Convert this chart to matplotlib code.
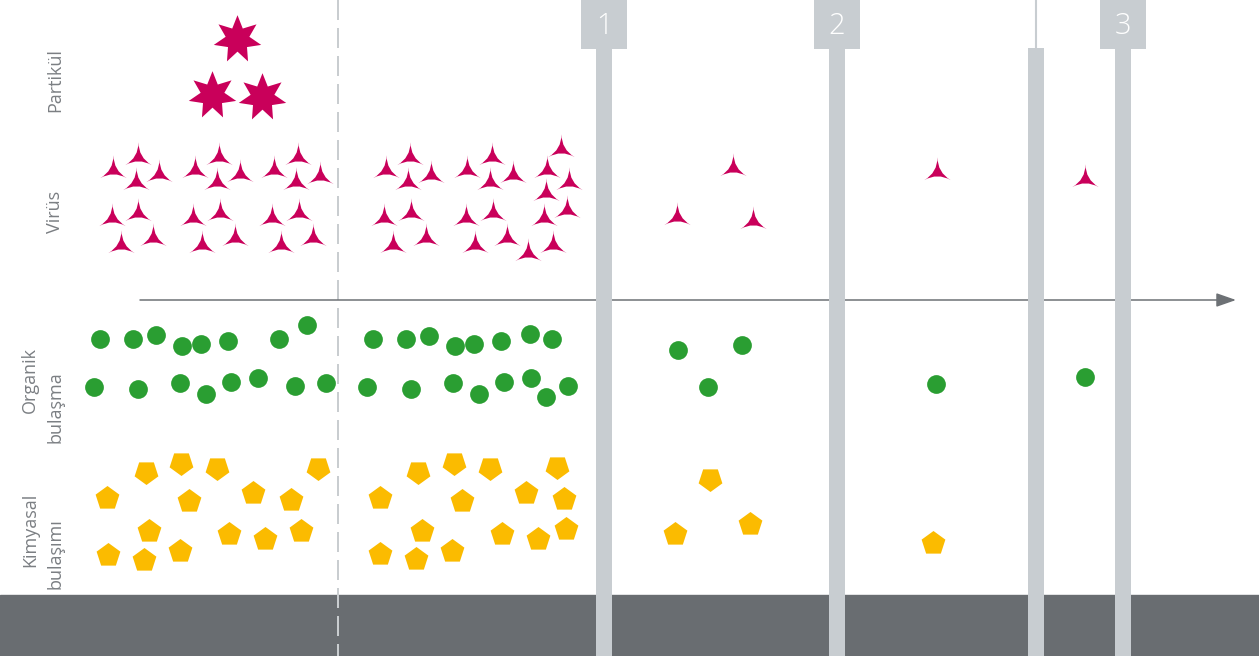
import matplotlib
matplotlib.use('Agg')
import matplotlib.pyplot as plt
from matplotlib.path import Path
import numpy as np

W, H = 1259, 656

# particle (7-point stars)
particle_x = [237, 212, 262]
particle_y = [39, 95, 97]

# virus (3-point spikes)
virus_x = [113, 138, 136, 159, 195, 219, 217, 240, 274, 298, 296, 320,
           112, 138, 121, 153, 193, 220, 202, 235, 272, 299, 281, 313,
           386, 410, 408, 431, 467, 492, 490, 513, 561, 547, 569, 546,
           384, 411, 393, 426, 466, 493, 475, 507, 528, 544, 567, 553,
           733, 677, 753, 937, 1085]
virus_y = [170, 157, 182, 174, 170, 157, 182, 174, 170, 157, 182, 176,
           218, 213, 245, 238, 218, 213, 245, 238, 218, 213, 245, 238,
           170, 157, 182, 175, 170, 157, 182, 175, 149, 170, 182, 193,
           218, 213, 245, 238, 218, 213, 245, 238, 253, 218, 210, 245,
           168, 217, 221, 172, 179]

# organic contamination (circles)
organic_x = [100, 133, 156, 182, 201, 228, 279, 307,
             94, 138, 180, 206, 231, 258, 295, 326,
             373, 406, 429, 455, 474, 501, 530, 552,
             367, 411, 453, 479, 504, 531, 546, 568,
             678, 742, 708, 936, 1085]
organic_y = [339, 339, 335, 346, 344, 341, 339, 325,
             387, 389, 383, 394, 382, 378, 386, 383,
             339, 339, 336, 346, 344, 341, 334, 339,
             387, 389, 383, 394, 382, 378, 397, 386,
             350, 345, 387, 384, 377]

# chemical contamination (pentagons), point-down and point-up
chem_down_x = [146, 181, 217, 318, 418, 454, 490, 557, 710]
chem_down_y = [472, 463, 468, 468, 472, 463, 468, 467, 479]
chem_up_x = [107, 189, 253, 291, 149, 229, 265, 301, 108, 144, 180,
             380, 462, 526, 564, 422, 502, 538, 566, 380, 416, 452,
             675, 750, 933]
chem_up_y = [498, 501, 493, 500, 531, 534, 539, 531, 555, 560, 551,
             498, 501, 493, 499, 531, 534, 539, 529, 554, 559, 551,
             534, 524, 543]

# stages
stage_labels = ['1', '2', '3']
stage_x = [604, 837, 1123]
extra_bar_x = 1036

row_labels = [('Partikül', 55, 80), ('Virüs', 55, 212),
              ('Organik', 30, 380), ('bulaşma', 55, 407),
              ('Kimyasal', 30, 530), ('bulaşımı', 55, 554)]

magenta = '#c9005a'
green = '#2a9e32'
yellow = '#fbbb00'
bar_gray = '#c8cdd1'
dark = '#696d71'
text_gray = '#7b7f83'

plt.rcParams['font.family'] = ['Open Sans', 'DejaVu Sans']

fig = plt.figure(figsize=(W / 100, H / 100), dpi=100)
ax = fig.add_axes([0, 0, 1, 1])
ax.set_xlim(0, W)
ax.set_ylim(H, 0)
ax.axis('off')

# ground band
ax.axhspan(595, H, color=dark, zorder=1)

# dashed divider
ax.plot([338, 338], [0, H], color='#c9cdd0', lw=1.44, dashes=[10, 4], zorder=2)

# time arrow
ax.annotate('', xy=(1236, 300), xytext=(140, 300),
            arrowprops=dict(arrowstyle='-|>,head_length=1.2,head_width=0.42',
                            color='#6d7175', lw=1.1, mutation_scale=10,
                            shrinkA=0, shrinkB=0), zorder=2)

# filter bars and labelled boxes
ax.bar(stage_x, H, width=16, bottom=0, color=bar_gray, zorder=3)
ax.bar(stage_x, 49, width=46, bottom=0, color=bar_gray, zorder=3)
ax.bar([extra_bar_x], H - 48, width=16, bottom=48, color=bar_gray, zorder=3)
ax.plot([extra_bar_x, extra_bar_x], [0, 48], color=bar_gray, lw=1.5, zorder=3)
for lab, x in zip(stage_labels, stage_x):
    ax.text(x, 26, lab, color='white', fontsize=21, fontweight='light',
            ha='center', va='center', zorder=4)

# markers
star7 = Path.unit_regular_star(7, 0.5)
ax.plot(particle_x, particle_y, ls='none', marker=star7, ms=35,
        color=magenta, mec='none', zorder=5)

# concave three-point spike
ang = np.deg2rad([90, 210, 330])
tips = np.c_[np.cos(ang), np.sin(ang)]
verts = [tips[0]]
codes = [Path.MOVETO]
for i in range(3):
    verts += [(0, 0), tips[(i + 1) % 3]]
    codes += [Path.CURVE3, Path.CURVE3]
verts.append(tips[0])
codes.append(Path.CLOSEPOLY)
spike = Path(verts, codes)
ax.plot(virus_x, virus_y, ls='none', marker=spike, ms=22,
        color=magenta, mec='none', zorder=5)

ax.plot(organic_x, organic_y, ls='none', marker='o', ms=13.5,
        color=green, mec='none', zorder=5)
ax.plot(chem_down_x, chem_down_y, ls='none', marker=(5, 0, 180), ms=18,
        color=yellow, mec='none', zorder=5)
ax.plot(chem_up_x, chem_up_y, ls='none', marker=(5, 0, 0), ms=18,
        color=yellow, mec='none', zorder=5)

for txt, x, y in row_labels:
    ax.text(x, y, txt, rotation=90, color=text_gray, fontsize=13,
            ha='center', va='center')

fig.savefig('out.png', dpi=100)
